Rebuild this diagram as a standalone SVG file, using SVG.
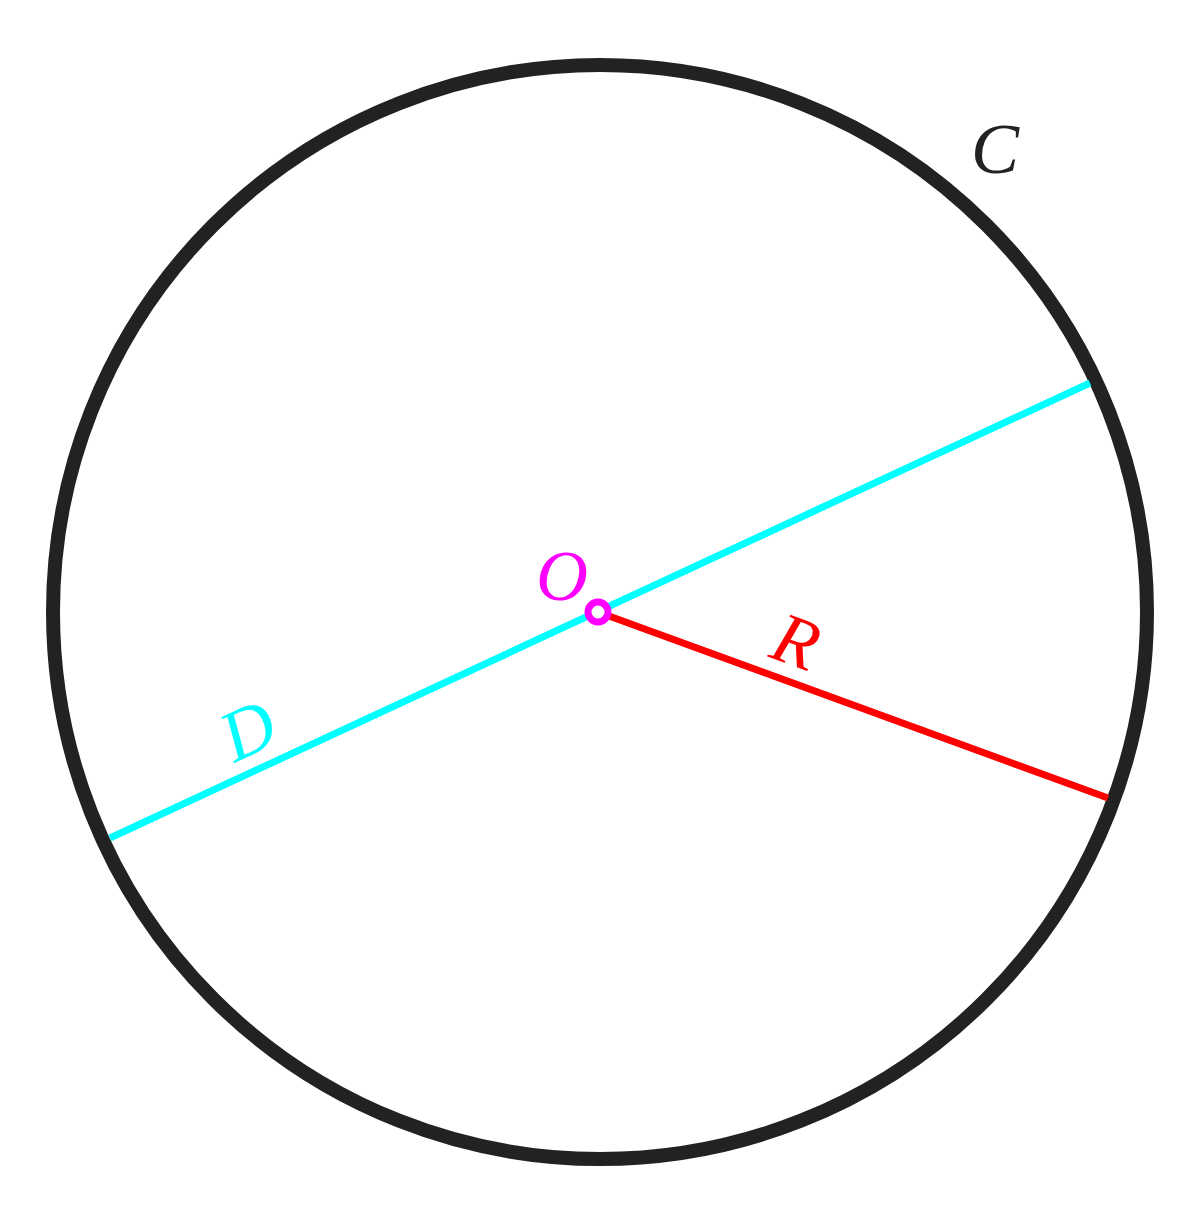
<svg xmlns="http://www.w3.org/2000/svg" width="1200" height="1212" viewBox="0 0 1200 1212">
<style>
.lbl{font-family:"Liberation Serif","DejaVu Serif",serif;font-style:italic;font-size:72px;text-anchor:middle}
</style>
<rect width="1200" height="1212" fill="#fff"/>
<g id="circle-C">
<circle cx="600" cy="612" r="547" fill="none" stroke="#222" stroke-width="14"/>
<text class="lbl" x="995" y="173" fill="#222">C</text>
</g>
<g id="connectors">
<line id="diameter-D" x1="110" y1="838" x2="1090" y2="383" stroke="#0ff" stroke-width="7"/>
<line id="radius-R" x1="598" y1="612" x2="1108" y2="798" stroke="#f00" stroke-width="7"/>
</g>
<g id="label-D"><text class="lbl" fill="#0ff" transform="translate(258,752) rotate(-25)" x="0" y="0">D</text></g>
<g id="label-R"><text class="lbl" fill="#f00" transform="translate(788,664) rotate(20)" x="0" y="0">R</text></g>
<g id="point-O">
<circle cx="598" cy="612" r="10" fill="#fff" stroke="#f0f" stroke-width="7"/>
<text class="lbl" x="562" y="600" fill="#f0f">O</text>
</g>
</svg>
